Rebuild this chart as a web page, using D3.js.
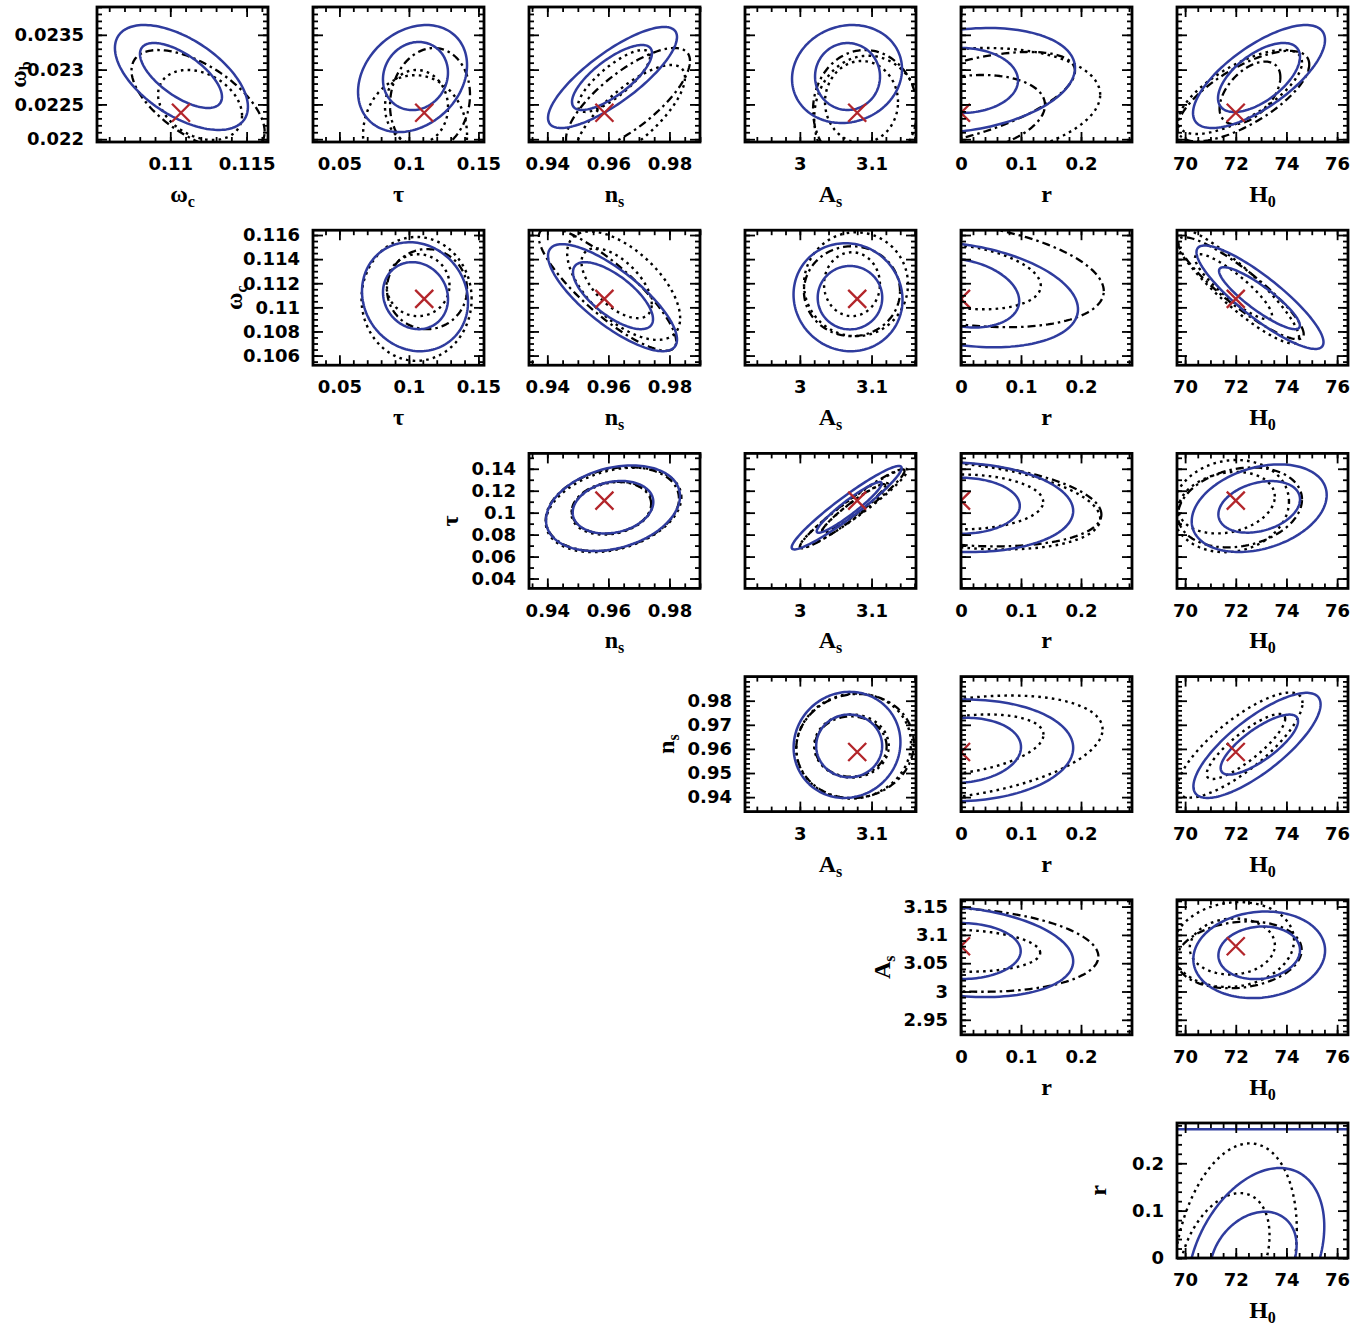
<!DOCTYPE html>
<html><head><meta charset="utf-8">
<script src="https://cdn.jsdelivr.net/npm/d3@7"></script>
<style>body{margin:0;background:#fff}</style>
</head><body>
<script>
// ---------------- DATA ----------------
// parameters: 0 ω_b, 1 ω_c, 2 τ, 3 n_s, 4 A_s, 5 r, 6 H0
const paramLabels = [["ω","b"],["ω","c"],["τ",""],["n","s"],["A","s"],["r",""],["H","0"]];
const paramDomains = [[0.02196,0.0239],[0.1052,0.1164],[0.031,0.154],[0.934,0.990],[2.9235,3.162],[0,0.285],[69.68,76.43]];
const fiducial = [0.02238, 0.1107, 0.111, 0.9587, 3.08, 0, 72];

// x-axis ticks (by parameter index)
const xMajorTicks = {1:[0.11,0.115], 2:[0.05,0.1,0.15], 3:[0.94,0.96,0.98], 4:[3,3.1], 5:[0,0.1,0.2], 6:[70,72,74,76]};
const xTickLabels = {1:["0.11","0.115"], 2:["0.05","0.1","0.15"], 3:["0.94","0.96","0.98"], 4:["3","3.1"], 5:["0","0.1","0.2"], 6:["70","72","74","76"]};
const xMinorStep = {1:0.001, 2:0.01, 3:0.005, 4:0.02, 5:0.02, 6:0.5};
// y-axis ticks (by parameter index)
const yMajorTicks = {0:[0.022,0.0225,0.023,0.0235], 1:[0.106,0.108,0.11,0.112,0.114,0.116], 2:[0.04,0.06,0.08,0.1,0.12,0.14], 3:[0.94,0.95,0.96,0.97,0.98], 4:[2.95,3,3.05,3.1,3.15], 5:[0,0.1,0.2]};
const yTickLabels = {0:["0.022","0.0225","0.023","0.0235"], 1:["0.106","0.108","0.11","0.112","0.114","0.116"], 2:["0.04","0.06","0.08","0.1","0.12","0.14"], 3:["0.94","0.95","0.96","0.97","0.98"], 4:["2.95","3","3.05","3.1","3.15"], 5:["0","0.1","0.2"]};
const yMinorStep = {0:0.0001, 1:0.0005, 2:0.01, 3:0.002, 4:0.01, 5:0.02};

// contours: [row(y param), col(x param - 1), centerX, centerY, halfWidthX, halfHeightY, tilt]
const solidOuter = [
 [0,0,0.11073,0.022887,0.004356,0.000754,-0.56],
 [0,1,0.1026,0.022872,0.0392,0.000769,0.25],
 [0,2,0.96135,0.022887,0.02112,0.000726,0.8],
 [0,3,3.0658,0.022937,0.0767,0.000704,0.1],
 [0,4,0,0.022844,0.19,0.000754,0.24],
 [0,5,72.917,0.022901,2.605,0.00074,0.71],
 [1,1,0.10437,0.11088,0.03812,0.004521,-0.1],
 [1,2,0.96135,0.1108,0.02112,0.00444,-0.78],
 [1,3,3.0672,0.11084,0.076,0.00448,-0.05],
 [1,4,0,0.11106,0.195,0.00437,-0.28],
 [1,5,72.956,0.11084,2.507,0.00429,-0.87],
 [2,2,0.96151,0.10407,0.02194,0.039,0.28],
 [2,3,3.0653,0.10453,0.0767,0.038,0.95],
 [2,4,0,0.1048,0.187,0.0407,-0.08],
 [2,5,72.925,0.10407,2.664,0.0399,0.3],
 [3,3,3.0658,0.96167,0.0745,0.022,0.05],
 [3,4,0,0.95939,0.187,0.0211,0.05],
 [3,5,72.838,0.96146,2.51,0.0218,0.78],
 [4,4,0,3.0701,0.187,0.08,-0.21],
 [4,5,72.925,3.0648,2.6,0.0765,0.1],
 [5,5,72.79,0,2.704,0.19,0.35]
];
const solidInner = [
 [0,0,0.1107,0.022916,0.002686,0.000467,-0.66],
 [0,1,0.1047,0.022908,0.02338,0.000489,0.1],
 [0,2,0.96118,0.022887,0.0131,0.000467,0.75],
 [0,3,3.0665,0.022901,0.0453,0.000481,0],
 [0,4,0,0.022844,0.095,0.000467,0],
 [0,5,72.917,0.022887,1.618,0.000496,0.6],
 [1,1,0.10473,0.11097,0.02338,0.00278,-0.1],
 [1,2,0.96151,0.11097,0.0131,0.00278,-0.7],
 [1,3,3.0699,0.1108,0.045,0.00263,0],
 [1,4,0,0.11119,0.097,0.00286,-0.23],
 [1,5,72.935,0.11076,1.595,0.00257,-0.88],
 [2,2,0.96151,0.10498,0.0132,0.0239,0.2],
 [2,3,3.0688,0.1048,0.0453,0.0231,0.94],
 [2,4,0,0.1063,0.098,0.0255,0],
 [2,5,72.925,0.1053,1.611,0.0235,0.29],
 [3,3,3.0688,0.96125,0.046,0.013,0],
 [3,4,0,0.95939,0.1,0.0135,0.1],
 [3,5,72.93,0.9618,1.527,0.01245,0.78],
 [4,4,0,3.0714,0.0995,0.0495,0],
 [4,5,72.925,3.0684,1.611,0.0465,0.1],
 [5,5,72.692,0,1.709,0.0977,0.27]
];
const dashedOuter = [
 [0,0,0.11182,0.022549,0.00436,0.000733,-0.6],
 [0,1,0.11516,0.022564,0.02877,0.000747,0.1],
 [0,2,0.96642,0.022564,0.0203,0.000747,0.75],
 [0,3,3.0909,0.02242,0.0725,0.000862,0],
 [0,4,0,0.022564,0.19,0.00069,0.6],
 [0,5,72.3,0.02262,2.6,0.00065,0.7],
 [1,1,0.113,0.11151,0.0288,0.00332,0],
 [1,2,0.9597,0.1115,0.0225,0.0051,-0.85],
 [1,3,3.0727,0.11134,0.067,0.00373,0],
 [1,4,0,0.11275,0.238,0.0044,-0.32],
 [1,5,72.206,0.11159,2.475,0.00423,-0.9],
 [2,2,0.9613,0.1033,0.0218,0.0382,0.25],
 [2,3,3.073,0.1035,0.073,0.036,0.96],
 [2,4,0,0.108,0.234,0.0387,-0.25],
 [2,5,72.167,0.1048,2.447,0.0364,0.2],
 [3,3,3.077,0.9612,0.082,0.0216,0.05],
 [4,4,0,3.0737,0.229,0.0742,-0.16],
 [4,5,72.13,3.0648,2.47,0.059,0.15]
];
const dashedInner = [
 [0,4,0,0.022348,0.14,0.000575,0.25],
 [0,5,72.56,0.022666,1.2,0.00045,0.5],
 [2,2,0.961,0.1045,0.013,0.0236,0.15],
 [2,3,3.075,0.104,0.044,0.022,0.95],
 [3,3,3.071,0.961,0.05,0.0125,0]
];
const dottedOuter = [
 [0,1,0.1044,0.02206,0.0374,0.00086,0],
 [0,2,0.96708,0.022348,0.018,0.000719,0.75],
 [0,3,3.095,0.0223,0.075,0.0009,0],
 [0,4,0,0.022492,0.232,0.000819,0.18],
 [0,5,72.167,0.022679,2.447,0.000604,0.7],
 [1,1,0.1055,0.1107,0.0396,0.00514,0],
 [1,2,0.965,0.1118,0.0185,0.0045,-0.6],
 [1,3,3.0783,0.11192,0.0725,0.00431,0],
 [1,5,72.0,0.1118,2.5,0.0048,-0.9],
 [2,2,0.9617,0.1025,0.0222,0.0385,0.3],
 [2,3,3.075,0.104,0.075,0.036,0.96],
 [2,4,0,0.1065,0.232,0.040,-0.3],
 [2,5,71.8,0.106,2.3,0.042,0.1],
 [3,3,3.075,0.9612,0.08,0.0218,0.05],
 [3,4,0,0.96055,0.236,0.0216,0.35],
 [3,5,72.167,0.96159,2.467,0.0218,0.8],
 [4,5,71.9,3.083,2.4,0.075,0.1],
 [5,5,71.97,0,2.44,0.242,0.24]
];
const dottedInner = [
 [0,0,0.11195,0.022492,0.00275,0.000503,-0.3],
 [0,1,0.10545,0.022463,0.02266,0.000532,0],
 [0,2,0.96184,0.022837,0.01179,0.000445,0.8],
 [0,3,3.086,0.022535,0.0509,0.000589,0],
 [1,1,0.10653,0.11184,0.02266,0.00257,0],
 [1,2,0.9627,0.1120,0.0115,0.0029,-0.6],
 [1,3,3.0727,0.11192,0.039,0.00265,0],
 [1,4,0,0.11254,0.133,0.0027,-0.28],
 [1,5,71.91,0.11171,1.52,0.0027,-0.88],
 [2,2,0.9612,0.1040,0.0133,0.024,0.2],
 [2,3,3.077,0.1045,0.046,0.0225,0.95],
 [2,4,0,0.1098,0.137,0.025,0],
 [2,5,71.64,0.1091,1.9,0.028,0.2],
 [3,3,3.072,0.9612,0.052,0.0131,0],
 [3,4,0,0.96179,0.1375,0.0125,0.33],
 [3,5,72.4,0.961,1.55,0.0135,0.85],
 [4,4,0,3.072,0.132,0.037,-0.1],
 [4,5,71.863,3.0795,1.68,0.0495,0.05],
 [5,5,71.543,0,1.79,0.137,0.35]
];
// solid line along the upper edge of the r–H0 panel (r value)
const rEdgeLine = [0.2717];

// ---------------- LAYOUT / STYLE ----------------
const W = 1363, H = 1328;
const pw = 171, ph = 135;
const colLeft = j => 97 + 216*j;
const rowTop = i => 7 + 223.2*i;
const BLUE = "#2f3c9e", RED = "#b3262b";
const tickFont = "DejaVu Sans", titleFont = "Liberation Serif";

const seriesStyles = [
  {data: dottedOuter, stroke:"#000", width:2.4, dash:"2.6,4.2"},
  {data: dottedInner, stroke:"#000", width:2.4, dash:"2.6,4.2"},
  {data: dashedOuter, stroke:"#000", width:2.3, dash:"8,4,2.5,4"},
  {data: dashedInner, stroke:"#000", width:2.3, dash:"8,4,2.5,4"},
  {data: solidOuter, stroke:BLUE, width:2.5, dash:null},
  {data: solidInner, stroke:BLUE, width:2.5, dash:null}
];

const svg = d3.select("body").append("svg").attr("width", W).attr("height", H);
const defs = svg.append("defs");
const angles = d3.range(0, 2*Math.PI, 2*Math.PI/144);

function ellipsePoints(c){
  const [, , cx, cy, hx, hy, rho] = c;
  const s = Math.sqrt(1 - rho*rho);
  return angles.map(t => [cx + hx*Math.cos(t), cy + hy*(rho*Math.cos(t) + s*Math.sin(t))]);
}

for (let i = 0; i < 6; i++) {
  for (let j = i; j < 6; j++) {
    const px = j + 1, py = i;
    const x = d3.scaleLinear().domain(paramDomains[px]).range([0, pw]);
    const y = d3.scaleLinear().domain(paramDomains[py]).range([ph, 0]);
    const g = svg.append("g").attr("transform", `translate(${colLeft(j)},${rowTop(i)})`);
    const cid = `clip${i}${j}`;
    defs.append("clipPath").attr("id", cid).append("rect").attr("width", pw).attr("height", ph);
    const plot = g.append("g").attr("clip-path", `url(#${cid})`);
    const line = d3.line().x(p => x(p[0])).y(p => y(p[1])).curve(d3.curveLinearClosed);

    seriesStyles.forEach(st => {
      st.data.filter(c => c[0] === i && c[1] === j).forEach(c => {
        plot.append("path").attr("d", line(ellipsePoints(c)))
          .attr("fill", "none").attr("stroke", st.stroke).attr("stroke-width", st.width)
          .attr("stroke-dasharray", st.dash).attr("stroke-linejoin", "round");
      });
    });
    if (i === 5 && j === 5) {
      rEdgeLine.forEach(v => plot.append("line").attr("x1", 0).attr("x2", pw)
        .attr("y1", y(v)).attr("y2", y(v)).attr("stroke", BLUE).attr("stroke-width", 2.6));
    } else {
      // fiducial cross
      const fx = x(fiducial[px]), fy = y(fiducial[py]), d = 9;
      plot.append("path").attr("d", `M${fx-d},${fy-d}L${fx+d},${fy+d}M${fx-d},${fy+d}L${fx+d},${fy-d}`)
        .attr("stroke", RED).attr("stroke-width", 2.3).attr("fill", "none");
    }

    // ticks
    const [x0, x1] = paramDomains[px], [y0, y1] = paramDomains[py];
    const xMinor = d3.range(Math.ceil(x0/xMinorStep[px]-1e-6), Math.floor(x1/xMinorStep[px]+1e-6)+1).map(k => k*xMinorStep[px]);
    const yMinor = d3.range(Math.ceil(y0/yMinorStep[py]-1e-6), Math.floor(y1/yMinorStep[py]+1e-6)+1).map(k => k*yMinorStep[py]);
    const axes = [
      [d3.axisBottom(x).tickValues(xMinor).tickSize(-5).tickFormat(""), `translate(0,${ph})`],
      [d3.axisTop(x).tickValues(xMinor).tickSize(-5).tickFormat(""), `translate(0,0)`],
      [d3.axisTop(x).tickValues(xMajorTicks[px]).tickSize(-10).tickFormat(""), `translate(0,0)`],
      [d3.axisLeft(y).tickValues(yMinor).tickSize(-5).tickFormat(""), `translate(0,0)`],
      [d3.axisRight(y).tickValues(yMinor).tickSize(-5).tickFormat(""), `translate(${pw},0)`],
      [d3.axisRight(y).tickValues(yMajorTicks[py]).tickSize(-10).tickFormat(""), `translate(${pw},0)`],
      [d3.axisBottom(x).tickValues(xMajorTicks[px]).tickSize(-10).tickPadding(15.5)
         .tickFormat((v, k) => xTickLabels[px][k]), `translate(0,${ph})`],
      [d3.axisLeft(y).tickValues(yMajorTicks[py]).tickSize(-10).tickPadding(13)
         .tickFormat((v, k) => i === j ? yTickLabels[py][k] : ""), `translate(0,0)`]
    ];
    axes.forEach(([ax, tr]) => {
      const ag = g.append("g").attr("transform", tr).call(ax);
      ag.select(".domain").remove();
      ag.selectAll(".tick line").attr("stroke", "#000").attr("stroke-width", 1.8);
      ag.attr("font-family", tickFont).attr("font-size", 18).attr("font-weight", "bold");
      ag.selectAll("text").attr("fill", "#000");
    });
    // frame
    g.append("rect").attr("width", pw).attr("height", ph).attr("fill", "none")
      .attr("stroke", "#000").attr("stroke-width", 2.8);

    // x title
    const xt = g.append("text").attr("x", pw/2).attr("y", ph + 60).attr("text-anchor", "middle")
      .attr("font-family", titleFont).attr("font-weight", "bold").attr("font-size", 24);
    xt.append("tspan").text(paramLabels[px][0]);
    if (paramLabels[px][1]) xt.append("tspan").attr("font-size", 16).attr("dy", 5).text(paramLabels[px][1]);
    // y title
    if (i === j) {
      const yt = g.append("text").attr("transform", `translate(-71,${ph/2}) rotate(-90)`)
        .attr("text-anchor", "middle")
        .attr("font-family", titleFont).attr("font-weight", "bold").attr("font-size", 24);
      yt.append("tspan").text(paramLabels[py][0]);
      if (paramLabels[py][1]) yt.append("tspan").attr("font-size", 16).attr("dy", 5).text(paramLabels[py][1]);
    }
  }
}
</script>
</body></html>
